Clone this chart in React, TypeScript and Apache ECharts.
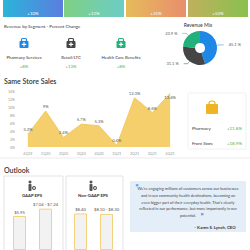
import React, { useEffect, useRef } from "react";
import * as echarts from "echarts";

const topChanges = ["+10%", "+11%", "+31%", "+52%"];
const segNames = ["Pharmacy Services", "Retail/LTC", "Health Care Benefits"];
const segChanges = ["+8%", "+13%", "+8%"];
const mixValues = [45.1, 31.1, 23.9];
const quarters = ["4Q19", "1Q20", "2Q20", "3Q20", "4Q20", "1Q21", "2Q21", "3Q21", "4Q21"];
const sssValues = [3.2, 9, 2.4, 5.7, 5.3, 0.4, 12.3, 8.6, 13.4];
const storeNames = ["Pharmacy", "Front Store"];
const storeChanges = ["+11.8%", "+18.9%"];
const gaapCats = ["2021", "2022E"];
const gaapValues = [5.95, 7.24];
const gaapLabels = ["$5.95", "$7.04 - $7.24"];
const nonGaapValues = [8.4, 8.3];
const nonGaapLabels = ["$8.40", "$8.10 - $8.30"];
const quote =
  "We're engaging millions of customers across our businesses\nand in our community health destinations, becoming an\neven bigger part of their everyday health. That's clearly\nreflected in our performance, but more importantly in our\npotential.";

const FONT = "Lato, 'Noto Sans', sans-serif";
const segColors = ["#1f87e6", "#454545", "#22b07b"];
const topGrads = [
  ["#2ab5da", "#5c7de0"],
  ["#7fd083", "#6ccdc6"],
  ["#e6bb5a", "#e98e6e"],
  ["#c0b05e", "#88c14e"],
];

function txt(x: number, y: number, text: string, size: number, fill: string, align = "center", weight: any = "normal", extra: any = {}) {
  return {
    type: "text",
    x,
    y,
    silent: true,
    style: { text, fontSize: size, fill, fontFamily: FONT, fontWeight: weight, textAlign: align, textVerticalAlign: "middle", ...extra },
  };
}

function medBag(cx: number, cy: number, color: string) {
  return {
    type: "group",
    children: [
      { type: "rect", shape: { x: cx - 2.5, y: cy - 5.5, width: 5, height: 3, r: 1 }, style: { fill: "none", stroke: color, lineWidth: 1.2 } },
      { type: "rect", shape: { x: cx - 4.5, y: cy - 3, width: 9, height: 7, r: 1 }, style: { fill: color } },
      { type: "rect", shape: { x: cx - 0.6, y: cy - 1.8, width: 1.2, height: 4.4 }, style: { fill: "#fff" } },
      { type: "rect", shape: { x: cx - 2.2, y: cy - 0.2, width: 4.4, height: 1.2 }, style: { fill: "#fff" } },
    ],
  };
}

function person(cx: number, cy: number) {
  return {
    type: "group",
    children: [
      { type: "circle", shape: { cx: cx - 2, cy: cy - 4, r: 1.5 }, style: { fill: "#555" } },
      { type: "rect", shape: { x: cx - 3.5, y: cy - 2, width: 3, height: 7, r: 0.8 }, style: { fill: "#555" } },
      { type: "circle", shape: { cx: cx + 2, cy: cy + 2, r: 2 }, style: { fill: "#555" } },
      { type: "circle", shape: { cx: cx + 2, cy: cy + 2, r: 0.8 }, style: { fill: "#fff" } },
    ],
  };
}

export default function App() {
  const ref = useRef<HTMLDivElement>(null);
  useEffect(() => {
    if (!ref.current) return;
    const chart = echarts.init(ref.current, undefined, { renderer: "svg" });
    const graphic: any[] = [];
    const boxX = [3, 64, 126, 188];
    topChanges.forEach((t, i) => {
      graphic.push({
        type: "rect",
        shape: { x: boxX[i], y: -2, width: 60, height: 19 },
        style: { fill: new echarts.graphic.LinearGradient(0, 0, 1, 0, [{ offset: 0, color: topGrads[i][0] }, { offset: 1, color: topGrads[i][1] }]) },
      });
      graphic.push(txt(boxX[i] + 30, 13, t, 4.5, "#ffffff"));
    });
    graphic.push(txt(4, 26, "Revenue by Segment - Percent Change", 4.5, "#333", "left"));
    const segX = [24, 71, 121];
    segNames.forEach((n, i) => {
      graphic.push(medBag(segX[i], 44, segColors[i]));
      graphic.push(txt(segX[i], 57, n, 4.3, "#333"));
      graphic.push(txt(segX[i], 66, segChanges[i], 4.3, "#4caf50"));
    });
    graphic.push(txt(198, 25, "Revenue Mix", 5, "#333"));
    graphic.push(txt(4, 81, "Same Store Sales", 7, "#333", "left", 600));
    graphic.push({ type: "rect", shape: { x: 188, y: 93, width: 58, height: 56, r: 1 }, style: { fill: "#fff", stroke: "#ececec", lineWidth: 0.8 } });
    graphic.push({ type: "rect", shape: { x: 209, y: 101, width: 6, height: 6, r: 2.5 }, style: { fill: "none", stroke: "#f0b323", lineWidth: 1.2 } });
    graphic.push({ type: "rect", shape: { x: 206, y: 104, width: 12, height: 10, r: 1 }, style: { fill: "#f0b323" } });
    storeNames.forEach((n, i) => {
      graphic.push(txt(192, 128 + i * 15, n, 4.3, "#333", "left"));
      graphic.push(txt(242, 128 + i * 15, storeChanges[i], 4.5, "#4caf50", "right"));
    });
    graphic.push({ type: "line", shape: { x1: 0, y1: 158, x2: 250, y2: 158 }, style: { stroke: "#e6e6e6", lineWidth: 0.8 } });
    graphic.push(txt(4, 170, "Outlook", 7, "#333", "left", 600));
    graphic.push({ type: "rect", shape: { x: 4, y: 176, width: 59, height: 80 }, style: { fill: "#fff", stroke: "#dcdcdc", lineWidth: 0.8 } });
    graphic.push({ type: "rect", shape: { x: 66, y: 176, width: 57, height: 80 }, style: { fill: "#fff", stroke: "#dcdcdc", lineWidth: 0.8 } });
    graphic.push(person(32, 186));
    graphic.push(person(93, 186));
    graphic.push(txt(32, 195, "GAAP EPS", 4.3, "#333", "center", "bold"));
    graphic.push(txt(93, 195, "Non-GAAP EPS", 4.3, "#333", "center", "bold"));
    graphic.push({ type: "rect", shape: { x: 130, y: 181, width: 116, height: 51 }, style: { fill: "#e4eef9" } });
    graphic.push(txt(188, 202, quote, 3.9, "#444", "center", "normal", { lineHeight: 6.8 }));
    graphic.push(txt(137, 187, "\u201C", 8, "#2f7fd0", "center", "bold"));
    graphic.push(txt(202, 216, "\u201D", 8, "#2f7fd0", "center", "bold"));
    graphic.push(txt(215, 227, "- Karen S. Lynch, CEO", 4.3, "#333", "center", "bold"));

    const barSeries = (xi: number, vals: number[], labels: string[]) => ({
      type: "bar",
      xAxisIndex: xi,
      yAxisIndex: xi,
      barWidth: 13,
      data: vals,
      itemStyle: { color: "#f2f2f2", borderColor: "#f3d27f", borderWidth: 1 },
      label: {
        show: true,
        position: "top",
        distance: 2,
        fontSize: 4.2,
        color: "#555",
        fontFamily: FONT,
        formatter: (p: any) => labels[p.dataIndex],
      },
    });

    chart.setOption({
      animation: false,
      graphic,
      grid: [
        { left: 19, right: 71, top: 91, bottom: 103 },
        { left: 6.5, width: 52, top: 200, bottom: -6 },
        { left: 67.5, width: 52, top: 200, bottom: -6 },
      ],
      xAxis: [
        {
          type: "category",
          gridIndex: 0,
          data: quarters,
          boundaryGap: true,
          axisLine: { show: false },
          axisTick: { show: false },
          axisLabel: { fontSize: 3.6, color: "#999", fontFamily: FONT, margin: 4 },
        },
        { type: "category", gridIndex: 1, data: gaapCats, show: false },
        { type: "category", gridIndex: 2, data: gaapCats, show: false },
      ],
      yAxis: [
        {
          type: "value",
          gridIndex: 0,
          min: 0,
          max: 14,
          interval: 2,
          splitLine: { show: false },
          axisLine: { show: false },
          axisTick: { show: false },
          axisLabel: { fontSize: 3.6, color: "#999", fontFamily: FONT, formatter: "{value}%", margin: 4 },
        },
        { type: "value", gridIndex: 1, min: 0, max: 8.75, show: false },
        { type: "value", gridIndex: 2, min: 0, max: 11.5, show: false },
      ],
      series: [
        {
          type: "pie",
          center: [200, 48],
          radius: [5, 17],
          startAngle: 90,
          clockwise: true,
          avoidLabelOverlap: false,
          data: mixValues.map((v, i) => ({ value: v, name: segNames[i], itemStyle: { color: segColors[i] } })),
          label: { show: true, fontSize: 4, color: "#555", fontFamily: FONT, formatter: "{c} %" },
          labelLine: { show: true, length: 3, length2: 4, lineStyle: { width: 0.5 } },
          emphasis: { disabled: true },
        },
        {
          type: "line",
          xAxisIndex: 0,
          yAxisIndex: 0,
          data: sssValues.map((v, i) =>
            i === sssValues.length - 1 ? { value: v, label: { position: "bottom" } } : v
          ),
          symbol: "circle",
          symbolSize: 1,
          showSymbol: true,
          itemStyle: { color: "rgba(0,0,0,0)" },
          lineStyle: { color: "#f3c85e", width: 1 },
          areaStyle: { color: "#f5cf6c", opacity: 1 },
          label: {
            show: true,
            position: "top",
            distance: 2,
            fontSize: 4.2,
            color: "#555",
            fontFamily: FONT,
            formatter: (p: any) => p.value + "%",
          },
        },
        barSeries(1, gaapValues, gaapLabels),
        barSeries(2, nonGaapValues, nonGaapLabels),
      ],
    });
    return () => chart.dispose();
  }, []);
  return <div ref={ref} style={{ position: "fixed", left: 0, top: 0, width: 250, height: 250, background: "#fff" }} />;
}
